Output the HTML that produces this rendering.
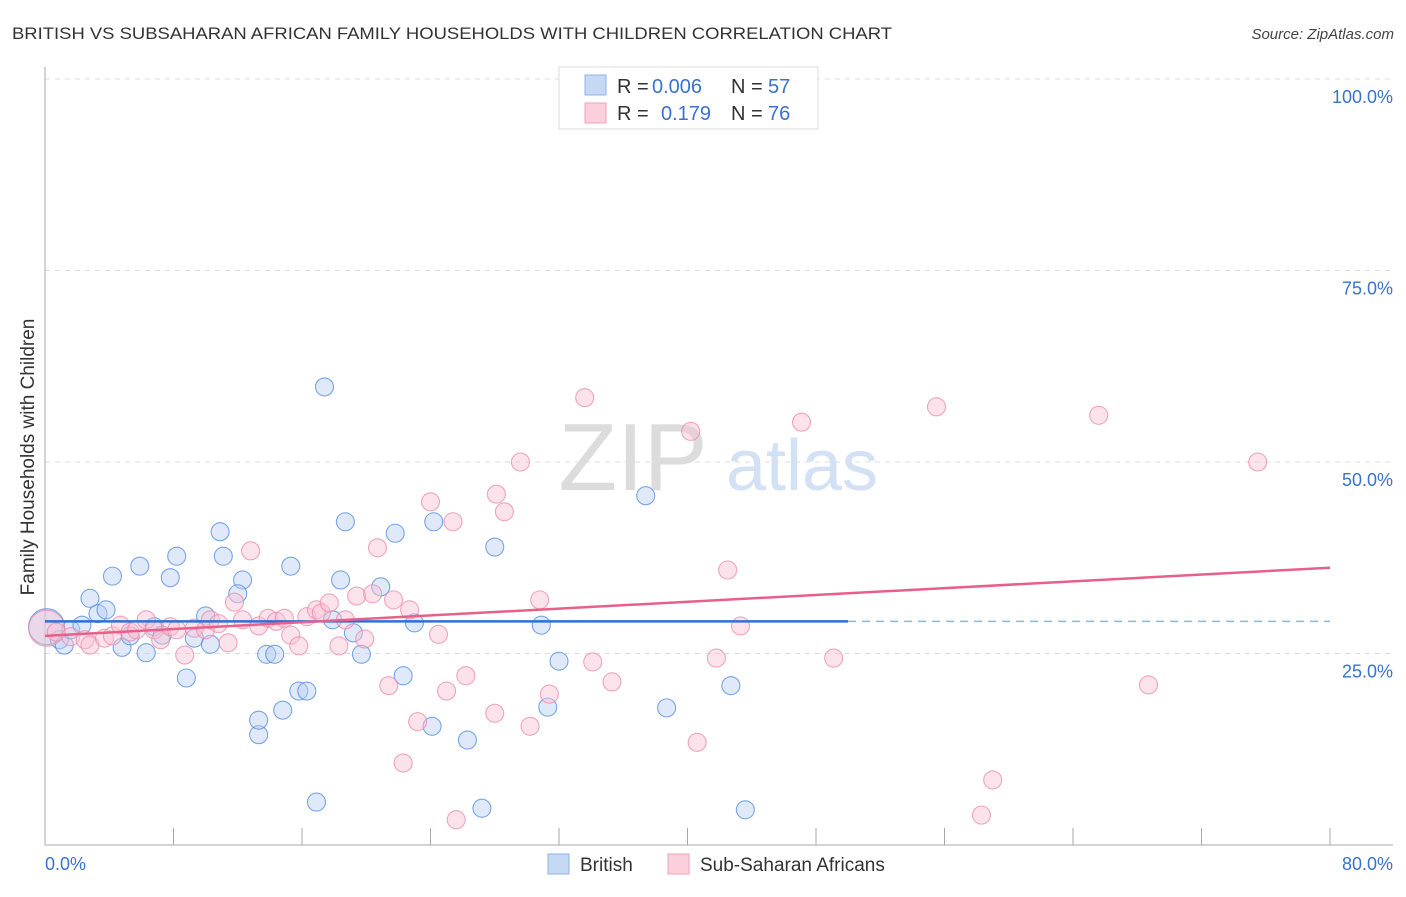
<!DOCTYPE html>
<html><head><meta charset="utf-8"><style>
body{margin:0;background:#fff;font-family:"Liberation Sans",sans-serif;}
svg text{font-family:"Liberation Sans",sans-serif;}
</style></head><body>
<svg id="chart" width="1406" height="892" xmlns="http://www.w3.org/2000/svg">
<text x="12" y="39" font-size="17" fill="#333" textLength="880" lengthAdjust="spacingAndGlyphs">BRITISH VS SUBSAHARAN AFRICAN FAMILY HOUSEHOLDS WITH CHILDREN CORRELATION CHART</text>
<text x="1394" y="39" font-size="15" fill="#444" text-anchor="end" font-style="italic">Source: ZipAtlas.com</text>
<g>
<text x="633" y="490" font-size="96" fill="#dcdcdc" text-anchor="middle" font-family="Liberation Serif, serif">ZIP</text>
<text x="802" y="490" font-size="72" fill="#d3e1f5" text-anchor="middle">atlas</text>
</g>
<g id="grid"></g>
<g id="axes"></g>
<g id="marks"></g>
<text transform="translate(34,457) rotate(-90)" font-size="19" fill="#333" text-anchor="middle">Family Households with Children</text>
<g>
<rect x="559" y="67" width="259" height="62" fill="#fff" stroke="#ddd"/>
<rect x="585" y="75" width="21" height="20" fill="#c5d9f5" stroke="#8fb3e8"/>
<text x="617" y="93" font-size="20" fill="#333">R =</text>
<text x="652" y="93" font-size="20" fill="#3a72cc">0.006</text>
<text x="731" y="93" font-size="20" fill="#333">N =</text>
<text x="768" y="93" font-size="20" fill="#3a72cc">57</text>
<rect x="585" y="103" width="21" height="20" fill="#fbd0dc" stroke="#f0a0b8"/>
<text x="617" y="120" font-size="20" fill="#333">R =</text>
<text x="661" y="120" font-size="20" fill="#3a72cc">0.179</text>
<text x="731" y="120" font-size="20" fill="#333">N =</text>
<text x="768" y="120" font-size="20" fill="#3a72cc">76</text>
</g>
<g>
<rect x="548" y="854" width="21" height="20" fill="#c5d9f5" stroke="#8fb3e8"/>
<text x="580" y="871" font-size="19" fill="#333">British</text>
<rect x="668" y="854" width="21" height="20" fill="#fbd0dc" stroke="#f0a0b8"/>
<text x="700" y="871" font-size="19" fill="#333">Sub-Saharan Africans</text>
</g>
</svg>
<script>
const britishX=[0.1,0.9,1.2,1.6,2.3,2.8,3.3,3.8,4.2,4.8,5.3,5.9,6.3,6.8,7.3,7.8,8.2,8.8,9.3,10.0,10.3,10.9,11.1,12.3,12.0,13.3,13.3,13.8,14.3,14.8,15.3,15.8,16.3,16.9,17.4,17.9,18.4,18.7,19.2,19.7,20.9,21.8,22.3,23.0,24.1,24.2,26.3,27.2,28.0,30.9,31.3,32.0,35.4,37.4,38.7,42.7,43.6];
const britishY=[28.5,26.8,26.1,28.1,28.7,32.2,30.2,30.7,35.1,25.8,27.3,36.4,25.1,28.5,27.4,34.9,37.7,21.8,27.0,29.9,26.2,40.9,37.7,34.6,32.8,14.4,16.3,24.9,24.9,17.6,36.4,20.1,20.1,5.6,59.8,29.4,34.6,42.2,27.7,24.9,33.7,40.7,22.1,29.0,15.5,42.2,13.7,4.8,38.9,28.7,18.0,24.0,100.4,45.6,17.9,20.8,4.6];
const ssaX=[0.1,0.7,1.6,2.5,2.8,3.7,4.2,4.7,5.3,5.7,6.3,6.8,7.2,7.8,8.2,8.7,9.3,10.0,10.3,10.8,11.4,11.8,12.3,12.8,13.3,13.9,14.4,14.9,15.3,15.8,16.3,16.9,17.2,17.7,18.3,18.7,19.4,19.9,20.4,20.7,21.4,21.7,22.3,22.7,23.2,24.0,24.5,25.0,25.4,25.6,26.2,28.0,28.1,28.6,29.6,30.2,30.8,31.4,33.6,34.1,35.3,40.2,40.6,41.8,42.5,43.3,47.1,49.1,55.5,58.3,59.0,65.6,68.7,75.5];
const ssaY=[28.3,27.8,27.2,26.8,26.1,27.0,27.3,28.7,27.8,28.1,29.4,28.1,26.8,28.5,28.1,24.8,28.3,28.1,29.4,28.9,26.4,31.7,29.4,38.4,28.6,29.6,29.2,29.6,27.4,26.0,29.8,30.7,30.3,31.6,26.0,29.4,32.5,26.9,32.8,38.8,20.8,32.0,10.7,30.7,16.1,44.8,27.5,20.1,42.2,3.3,22.1,17.2,45.8,43.5,50.0,15.5,32.0,19.7,58.4,23.9,21.3,54.0,13.4,24.4,35.9,28.6,55.2,24.4,57.2,3.9,8.5,56.1,20.9,50.0];
const britishTrend=[29.2,29.2];const britishTrendEnd=50;
const ssaTrend=[27.3,36.2];
const yTicks=[25,50,75,100];const yTickLabels=["25.0%","50.0%","75.0%","100.0%"];
const xTicks=[0,8,16,24,32,40,48,56,64,72,80];const xEndLabels=["0.0%","80.0%"];
const NS="http://www.w3.org/2000/svg";
const X=v=>45+v*(1285/80), Y=v=>845-v*7.66;
function mk(tag,attrs,parent){const e=document.createElementNS(NS,tag);for(const k in attrs)e.setAttribute(k,attrs[k]);document.getElementById(parent).appendChild(e);return e;}
yTicks.forEach((t,i)=>{
 const l=mk('line',{x1:45,x2:1393,y1:Y(t),y2:Y(t),stroke:'#ddd','stroke-dasharray':'5,5'},'grid');
 
 
 const tx=mk('text',{x:1393,y:Y(t)+24,'font-size':18,fill:'#3a72cc','text-anchor':'end'},'grid');
 tx.textContent=yTickLabels[i];
 
 
});
let a=mk('line',{x1:45,x2:45,y1:67,y2:845,stroke:'#aaa'},'axes');


a=mk('line',{x1:45,x2:1393,y1:845,y2:845,stroke:'#aaa'},'axes');


xTicks.forEach(t=>{const l=mk('line',{x1:X(t),x2:X(t),y1:828,y2:845,stroke:'#aaa'},'axes');
 
 });
let t0=mk('text',{x:45,y:870,'font-size':18,fill:'#3a72cc'},'axes');t0.textContent=xEndLabels[0];


let t1=mk('text',{x:1393,y:870,'font-size':18,fill:'#3a72cc','text-anchor':'end'},'axes');t1.textContent=xEndLabels[1];


function pts(xs,ys,fill,stroke,name){xs.forEach((x,i)=>{const c=mk('circle',{cx:X(x),cy:Y(ys[i]),r:i==0?18:9,fill:fill,'fill-opacity':0.45,stroke:stroke,'stroke-opacity':0.75,'stroke-width':1.1},'marks');
 
 });}
pts(britishX,britishY,'#b7cff2','#4f8ae0','british-point');
pts(ssaX,ssaY,'#f8c2d2','#ea8aa8','subsaharan-point');
let ln=mk('line',{x1:X(0),x2:X(britishTrendEnd),y1:Y(britishTrend[0]),y2:Y(britishTrend[1]),stroke:'#2f6fd6','stroke-width':2.5},'marks');


ln=mk('line',{x1:X(britishTrendEnd),x2:X(80),y1:Y(britishTrend[1]),y2:Y(britishTrend[1]),stroke:'#8fb3e8','stroke-width':1.5,'stroke-dasharray':'8,6'},'marks');


ln=mk('line',{x1:X(0),x2:X(80),y1:Y(ssaTrend[0]),y2:Y(ssaTrend[1]),stroke:'#e8608a','stroke-width':2.5},'marks');


</script>
</body></html>
